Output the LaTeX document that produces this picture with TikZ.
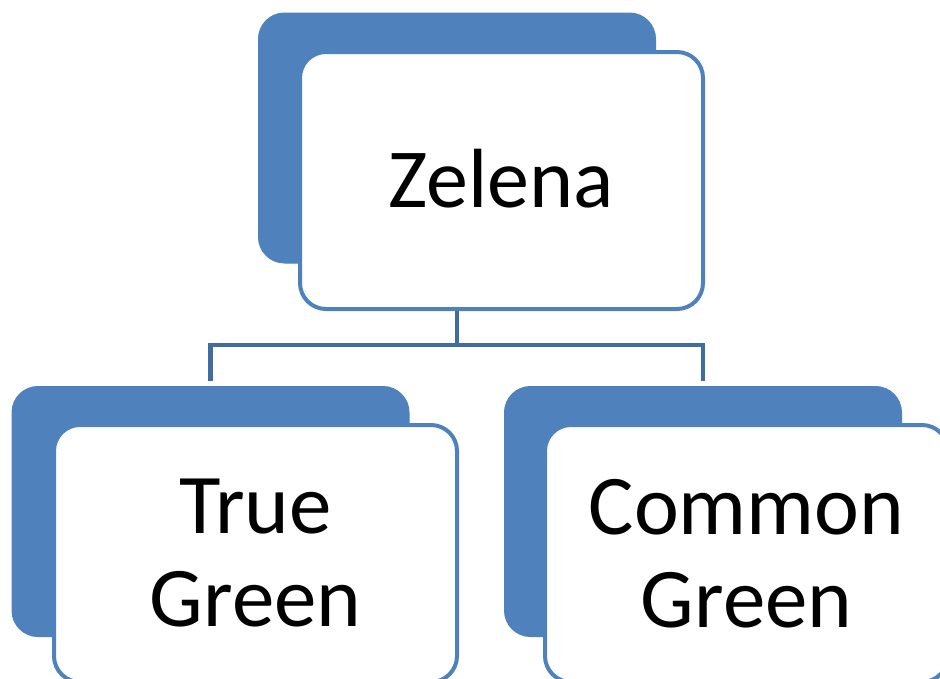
\documentclass[tikz,border=0pt]{standalone}
\usepackage{fontspec}
\setmainfont{Carlito}
\definecolor{accent}{HTML}{4F81BD}
\definecolor{connc}{HTML}{3F6D9F}
\begin{document}
\begin{tikzpicture}[x=1pt,y=-1pt,
  backbox/.style={rectangle,rounded corners=26pt,fill=accent,draw=accent,line width=1pt,
    minimum width=397pt,minimum height=250pt,inner sep=0pt,outer sep=0pt},
  frontbox/.style={rectangle,rounded corners=26pt,fill=white,draw=accent,line width=4pt,
    minimum width=403pt,minimum height=257pt,inner sep=0pt,outer sep=0pt,align=center},
  conn/.style={draw=connc,line width=4.5pt}]
\useasboundingbox (0,0) rectangle (940,678);
\clip (0,0) rectangle (940,678);
\node[backbox] (tback) at (457,138) {};
\node[backbox] (lback) at (210.5,511.5) {};
\node[backbox] (rback) at (703,511.5) {};
\draw[conn] (tback.south) -- ++(0,82) coordinate (hmid) -| ([yshift=6pt]lback.north);
\draw[conn] (hmid) -| ([yshift=6pt]rback.north);
\node[frontbox,font=\fontsize{84}{94}\selectfont] (top) at (501.5,180.5) {\raisebox{4pt}{Zelena}};
\node[frontbox,font=\fontsize{85}{93}\selectfont] (left) at (255.5,553.5) {True\\Green};
\node[frontbox,font=\fontsize{85}{93}\selectfont] (right) at (746.5,553.5) {Common\\Green};
\end{tikzpicture}
\end{document}
